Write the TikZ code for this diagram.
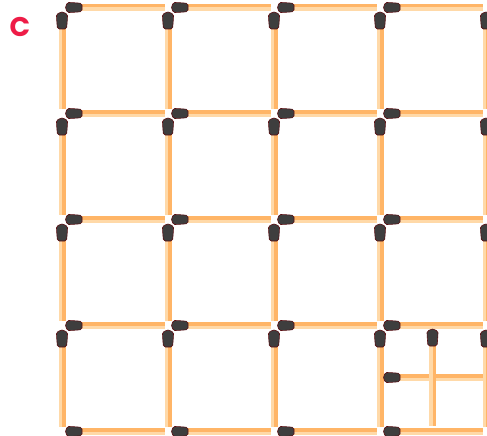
\documentclass[tikz,border=0pt]{standalone}
\usepackage{fontspec}
\newfontfamily\labelfont{Poppins}
\usepackage{tikz}
\usetikzlibrary{positioning}
\definecolor{matchDark}{HTML}{FFB567}
\definecolor{matchLight}{HTML}{FFD9A8}
\definecolor{headGray}{HTML}{3E3E3E}
\definecolor{headRim}{HTML}{5A0E12}
\definecolor{labelRed}{HTML}{EE1C47}
\tikzset{
  matchhead/.style={fill=headGray, draw=headRim, line width=0.6pt, rounded corners=1.8pt},
  hmatch/.pic={
    \fill[matchDark] (14,-3.4) rectangle (99,0);
    \fill[matchLight] (14,0) rectangle (99,3.2);
    \path[matchhead] (5,-5) arc(270:90:5) -- (16.5,4.2) -- (16.5,-4.2) -- cycle;
  },
  vmatch/.pic={
    \fill[matchLight] (-3.5,14) rectangle (0,97);
    \fill[matchDark] (0,14) rectangle (3.5,97);
    \path[matchhead] (-5.5,5.5) arc(180:360:5.5) -- (4.6,17) -- (-4.6,17) -- cycle;
  },
  letter/.style={font=\labelfont\bfseries\fontsize{27}{27}\selectfont, text=labelRed, inner sep=0pt}
}
\begin{document}
\begin{tikzpicture}[x=1pt,y=-1pt]
  \useasboundingbox (0,0) rectangle (487,436);
  \clip (0,0) rectangle (487,436);
  \fill[white] (0,0) rectangle (487,436);
  \node[letter] (puzzleLetter) at (20,26.5) {C};
  % grid of matches
  \foreach \col in {0,...,3}
    \foreach \row in {0,...,4}
      \pic (h\col\row) at (65.5+106*\col, 7.5+106*\row) {hmatch};
  \foreach \col in {0,...,4}
    \foreach \row in {0,...,3}
      \pic (v\col\row) at (62+106*\col, 12+106*\row) {vmatch};
  % the two extra matches in the last square
  \pic (hextra) at (383.5,377.5) {hmatch};
  \pic (vextra) at (432.5,329) {vmatch};
\end{tikzpicture}
\end{document}
